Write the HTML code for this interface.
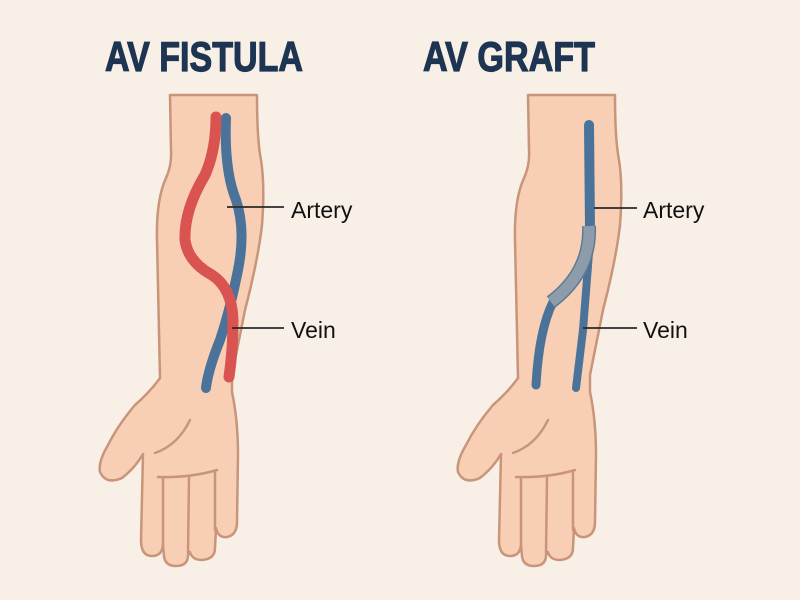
<!DOCTYPE html>
<html><head><meta charset="utf-8"><style>
html,body{margin:0;padding:0;background:#f8f0e7;}
svg{display:block}
</style></head><body>
<svg width="800" height="600" viewBox="0 0 800 600" xmlns="http://www.w3.org/2000/svg">
<rect width="800" height="600" fill="#f8f0e7"/>
<defs>
<g id="arm">
<path d="M170,95 L171,150 Q172,165 166,178 Q156,200 157,240 L160,378 Q150,392 135,405 Q118,425 108,445 Q98,462 100,472 Q106,485 122,478 Q135,468 143,454 L141,540 Q141,556 152,556 Q162,556 163,545 L164,556 Q165,566 176,566 Q188,566 188,555 L190,552 Q192,560 202,560 Q215,559 215,548 L216,528 Q218,538 227,537 Q237,535 237,522 L238,455 Q238,420 232,392 L232,375 Q236,355 245,310 Q258,260 262,225 Q265,185 261,160 Q257,140 257,95 Z" fill="#f8cfb5" stroke="#c8957a" stroke-width="2.5" stroke-linejoin="round"/>
<path d="M155,453 Q178,445 190,420" fill="none" stroke="#c8957a" stroke-width="2.5" stroke-linecap="round"/>
<path d="M158,477 Q190,478 217,470" fill="none" stroke="#c8957a" stroke-width="2.5" stroke-linecap="round"/>
<path d="M163,478 L163,545 M189,477 L188,553 M215,472 L215,530" fill="none" stroke="#c8957a" stroke-width="2.5" stroke-linecap="round"/>
</g>
</defs>
<use href="#arm"/>
<use href="#arm" transform="translate(358,0)"/>

<!-- Fistula vessels -->
<path d="M226,118 Q224,170 236,200 Q246,230 238,270 Q230,310 220,340 Q208,370 206,388" fill="none" stroke="#4b7399" stroke-width="10" stroke-linecap="round"/>
<path d="M216,117 Q216,150 205,175 Q184,210 185,240 Q188,262 212,275 Q232,288 233,320 Q233,350 229,377" fill="none" stroke="#d95350" stroke-width="11" stroke-linecap="round"/>

<!-- Graft vessels -->
<path d="M590,240 L583,330 L576,388" fill="none" stroke="#4b7399" stroke-width="8" stroke-linecap="round"/>
<path d="M589,125 L590,228" fill="none" stroke="#4b7399" stroke-width="10" stroke-linecap="round"/>
<path d="M553,302 Q539,330 536,385" fill="none" stroke="#4b7399" stroke-width="9" stroke-linecap="round"/>
<path d="M589,226 Q591,272 551,302" fill="none" stroke="#5f7a92" stroke-width="14" stroke-linecap="butt"/>
<path d="M589,226 Q591,272 551,302" fill="none" stroke="#8d9cab" stroke-width="11" stroke-linecap="butt"/>

<!-- Leader lines -->
<g stroke="#2a2a2a" stroke-width="1.8">
<line x1="227" y1="207" x2="284" y2="207"/>
<line x1="232" y1="328" x2="284" y2="328"/>
<line x1="594" y1="208" x2="637" y2="208"/>
<line x1="583" y1="328" x2="637" y2="328"/>
</g>

<g font-family="Liberation Sans, sans-serif" fill="#111" font-size="23">
<text x="291" y="218">Artery</text>
<text x="291" y="338">Vein</text>
<text x="643" y="218">Artery</text>
<text x="643" y="338">Vein</text>
</g>
<g font-family="Liberation Sans, sans-serif" font-weight="bold" fill="#1d3552" font-size="42" stroke="#1d3552" stroke-width="1.2">
<text x="105" y="71" textLength="198" lengthAdjust="spacingAndGlyphs">AV FISTULA</text>
<text x="423" y="71" textLength="172" lengthAdjust="spacingAndGlyphs">AV GRAFT</text>
</g>
</svg>
</body></html>
